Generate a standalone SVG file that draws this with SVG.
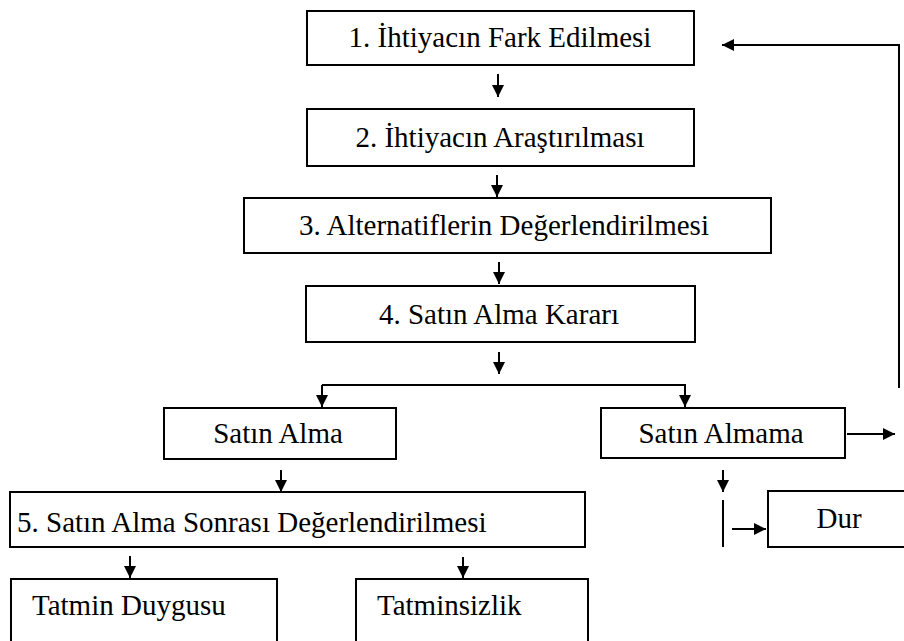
<svg xmlns="http://www.w3.org/2000/svg" width="904" height="641" viewBox="0 0 904 641">
<defs>
<marker id="ah" viewBox="0 0 10 10" refX="10" refY="5" markerWidth="13" markerHeight="12" markerUnits="userSpaceOnUse" orient="auto">
<path d="M0,0 L10,5 L0,10 Z" fill="#000"/>
</marker>
</defs>
<rect width="904" height="641" fill="#fff"/>
<g id="n1"><rect x="307" y="11" width="387" height="54" fill="#fff" stroke="#000" stroke-width="2"/><text x="500" y="47" text-anchor="middle" font-family="Liberation Serif" font-size="29">1. İhtiyacın Fark Edilmesi</text></g>
<g id="n2"><rect x="307" y="109" width="387" height="57" fill="#fff" stroke="#000" stroke-width="2"/><text x="500" y="147" text-anchor="middle" font-family="Liberation Serif" font-size="29">2. İhtiyacın Araştırılması</text></g>
<g id="n3"><rect x="244" y="198" width="527" height="55" fill="#fff" stroke="#000" stroke-width="2"/><text x="504" y="235" text-anchor="middle" font-family="Liberation Serif" font-size="29">3. Alternatiflerin Değerlendirilmesi</text></g>
<g id="n4"><rect x="306" y="286" width="389" height="56" fill="#fff" stroke="#000" stroke-width="2"/><text x="499" y="324" text-anchor="middle" font-family="Liberation Serif" font-size="29">4. Satın Alma Kararı</text></g>
<g id="n5"><rect x="164" y="408" width="232" height="51" fill="#fff" stroke="#000" stroke-width="2"/><text x="278" y="443" text-anchor="middle" font-family="Liberation Serif" font-size="29">Satın Alma</text></g>
<g id="n6"><rect x="601" y="408" width="244" height="50" fill="#fff" stroke="#000" stroke-width="2"/><text x="721" y="443" text-anchor="middle" font-family="Liberation Serif" font-size="29">Satın Almama</text></g>
<g id="n7"><rect x="10" y="492" width="575" height="55" fill="#fff" stroke="#000" stroke-width="2"/><text x="17" y="532" font-family="Liberation Serif" font-size="29">5. Satın Alma Sonrası Değerlendirilmesi</text></g>
<g id="n8"><rect x="11" y="579" width="266" height="80" fill="#fff" stroke="#000" stroke-width="2"/><text x="32" y="615" font-family="Liberation Serif" font-size="29">Tatmin Duygusu</text></g>
<g id="n9"><rect x="356" y="579" width="232" height="80" fill="#fff" stroke="#000" stroke-width="2"/><text x="377" y="615" font-family="Liberation Serif" font-size="29">Tatminsizlik</text></g>
<g id="n10"><rect x="768" y="491" width="150" height="56" fill="#fff" stroke="#000" stroke-width="2"/><text x="839" y="528" text-anchor="middle" font-family="Liberation Serif" font-size="29">Dur</text></g>
<g id="connectors" fill="none" stroke="#000" stroke-width="2">
<line x1="498" y1="74" x2="498" y2="97" marker-end="url(#ah)"/>
<line x1="497" y1="175" x2="497" y2="197" marker-end="url(#ah)"/>
<line x1="499" y1="262" x2="499" y2="284" marker-end="url(#ah)"/>
<line x1="499" y1="352" x2="499" y2="374" marker-end="url(#ah)"/>
<path d="M322,385 V407" marker-end="url(#ah)"/>
<path d="M322,385 H685 V407" marker-end="url(#ah)"/>
<line x1="281" y1="470" x2="281" y2="492" marker-end="url(#ah)"/>
<line x1="130" y1="556" x2="130" y2="578" marker-end="url(#ah)"/>
<line x1="463" y1="557" x2="463" y2="578" marker-end="url(#ah)"/>
<line x1="723" y1="470" x2="723" y2="492" marker-end="url(#ah)"/>
<line x1="723" y1="500" x2="723" y2="547"/>
<line x1="732" y1="529" x2="766" y2="529" marker-end="url(#ah)"/>
<line x1="847" y1="434" x2="895" y2="434" marker-end="url(#ah)"/>
<path d="M899,388 V45 H722" marker-end="url(#ah)"/>
</g>
</svg>
